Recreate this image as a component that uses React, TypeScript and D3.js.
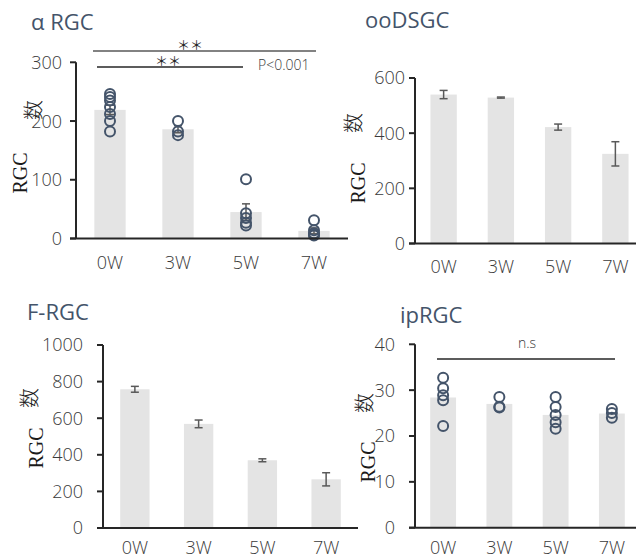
import * as d3 from "d3";

const weeks = ["0W", "3W", "5W", "7W"];

// αRGC
const alphaMean = [219, 186, 45, 13];
const alphaErr = [8, 6, 14, 5];
const alphaDots = [
  [246, 241, 235, 224, 212, 200, 182],
  [200, 182, 176],
  [101, 43, 35, 27, 22],
  [31, 14, 9, 5, 7],
];

// ooDSGC
const ooMean = [540, 529, 422, 325];
const ooErr = [15, 2, 11, 44];

// F-RGC
const fMean = [758, 569, 370, 266];
const fErr = [16, 21, 8, 36];

// ipRGC
const ipMean = [28.4, 27.0, 24.6, 24.9];
const ipDots = [
  [32.7, 30.4, 28.9, 27.8, 22.2],
  [28.5, 26.4, 26.2],
  [28.5, 26.3, 24.6, 23.0, 21.6],
  [25.9, 25.0, 24.0],
];

const sans = "'Open Sans', 'Noto Sans CJK JP', sans-serif";
const cjk = "'Noto Sans CJK JP', sans-serif";
const textColor = "#3a3a3a";
const titleColor = "#44546a";
const barColor = "#e4e4e4";
const errColor = "#595959";

interface PanelProps {
  title: string;
  titleX: number;
  titleY: number;
  axisX: number;
  rangeEnd: number;
  lineEnd: number;
  yTop: number;
  yBottom: number;
  max: number;
  step: number;
  tickGap: number;
  xLabelY: number;
  means: number[];
  errs?: number[];
  dots?: number[][];
  rgc: [number, number];
  kanji: [number, number];
}

function Panel(p: PanelProps) {
  const x = d3
    .scaleBand()
    .domain(weeks)
    .range([p.axisX, p.rangeEnd])
    .paddingInner(0.54)
    .paddingOuter(0.27);
  const y = d3.scaleLinear().domain([0, p.max]).range([p.yBottom, p.yTop]);
  const ticks = d3.range(0, p.max + p.step / 2, p.step);
  const bw = x.bandwidth();

  return (
    <g>
      <text
        x={p.titleX}
        y={p.titleY}
        fill={titleColor}
        fontFamily={sans}
        fontWeight={400}
        fontSize={22}
      >
        {p.title}
      </text>
      {/* y label */}
      <text
        transform={`translate(${p.rgc[0]},${p.rgc[1]}) rotate(-90)`}
        textAnchor="middle"
        fontFamily="'Liberation Serif', serif"
        fontSize={20}
        fill="#1a1a1a"
      >
        RGC
      </text>
      <text
        transform={`translate(${p.kanji[0]},${p.kanji[1]}) rotate(-90)`}
        textAnchor="middle"
        fontFamily={cjk}
        fontWeight={300}
        fontSize={20}
        fill="#1a1a1a"
      >
        数
      </text>
      {/* bars */}
      {weeks.map((w, i) => (
        <rect
          key={w}
          x={x(w)}
          y={y(p.means[i])}
          width={bw}
          height={p.yBottom - y(p.means[i])}
          fill={barColor}
        />
      ))}
      {/* error bars */}
      {p.errs &&
        weeks.map((w, i) => {
          const cx = (x(w) as number) + bw / 2;
          const hi = y(p.means[i] + p.errs![i]);
          const lo = y(p.means[i] - p.errs![i]);
          return (
            <g key={w} stroke={errColor} strokeWidth={1.5}>
              <line x1={cx} x2={cx} y1={hi} y2={lo} />
              <line x1={cx - 4} x2={cx + 4} y1={hi} y2={hi} />
              <line x1={cx - 4} x2={cx + 4} y1={lo} y2={lo} />
            </g>
          );
        })}
      {/* dots */}
      {p.dots &&
        weeks.map((w, i) =>
          p.dots![i].map((v, j) => (
            <circle
              key={w + j}
              cx={(x(w) as number) + bw / 2}
              cy={y(v)}
              r={5}
              fill="none"
              stroke={titleColor}
              strokeWidth={2}
            />
          ))
        )}
      {/* y axis */}
      <line
        x1={p.axisX}
        x2={p.axisX}
        y1={p.yTop}
        y2={p.yBottom}
        stroke="#262626"
        strokeWidth={2}
      />
      {ticks.map((t) => (
        <g key={t}>
          <line
            x1={p.axisX - 6}
            x2={p.axisX}
            y1={y(t)}
            y2={y(t)}
            stroke="#262626"
            strokeWidth={2}
          />
          <text
            x={p.axisX - 6 - p.tickGap}
            y={y(t)}
            dy="0.36em"
            textAnchor="end"
            fontFamily={sans}
            fontWeight={300}
            fontSize={18}
            fill={textColor}
          >
            {t}
          </text>
        </g>
      ))}
      {/* x axis */}
      <line
        x1={p.axisX - 6}
        x2={p.lineEnd}
        y1={p.yBottom}
        y2={p.yBottom}
        stroke="#262626"
        strokeWidth={2}
      />
      {weeks.map((w) => (
        <text
          key={w}
          x={(x(w) as number) + bw / 2}
          y={p.xLabelY}
          textAnchor="middle"
          fontFamily={sans}
          fontWeight={300}
          fontSize={18}
          fill={textColor}
        >
          {w}
        </text>
      ))}
    </g>
  );
}

export default function App() {
  return (
    <svg
      width={636}
      height={558}
      style={{ position: "absolute", left: 0, top: 0, background: "#fff" }}
    >
      <Panel
        title="α RGC"
        titleX={31}
        titleY={30}
        axisX={76}
        rangeEnd={348}
        lineEnd={348}
        yTop={62.3}
        yBottom={238.5}
        max={300}
        step={100}
        tickGap={8}
        xLabelY={269}
        means={alphaMean}
        errs={alphaErr}
        dots={alphaDots}
        rgc={[27, 173]}
        kanji={[41, 110]}
      />
      <Panel
        title="ooDSGC"
        titleX={365}
        titleY={28}
        axisX={415}
        rangeEnd={644}
        lineEnd={636}
        yTop={78}
        yBottom={243.5}
        max={600}
        step={200}
        tickGap={4}
        xLabelY={273}
        means={ooMean}
        errs={ooErr}
        rgc={[365, 183]}
        kanji={[361, 123]}
      />
      <Panel
        title="F-RGC"
        titleX={27}
        titleY={320}
        axisX={103}
        rangeEnd={358}
        lineEnd={358}
        yTop={345}
        yBottom={528}
        max={1000}
        step={200}
        tickGap={14}
        xLabelY={554}
        means={fMean}
        errs={fErr}
        rgc={[43, 448]}
        kanji={[37, 398]}
      />
      <Panel
        title="ipRGC"
        titleX={400}
        titleY={323}
        axisX={415}
        rangeEnd={640}
        lineEnd={636}
        yTop={344.3}
        yBottom={527.7}
        max={40}
        step={10}
        tickGap={14}
        xLabelY={554}
        means={ipMean}
        dots={ipDots}
        rgc={[375, 462]}
        kanji={[372, 403]}
      />
      {/* significance annotations */}
      <line x1={93} x2={316} y1={51} y2={51} stroke={errColor} strokeWidth={1.3} />
      <text
        x={190}
        y={50}
        textAnchor="middle"
        fontFamily={cjk}
        fontSize={13}
        fill="#262626"
      >
        ＊＊
      </text>
      <line x1={97} x2={243} y1={67} y2={67} stroke="#262626" strokeWidth={1.3} />
      <text
        x={168}
        y={66}
        textAnchor="middle"
        fontFamily={cjk}
        fontSize={13}
        fill="#262626"
      >
        ＊＊
      </text>
      <text
        x={258}
        y={70}
        fontFamily={sans}
        fontWeight={300}
        fontSize={14}
        fill={textColor}
      >
        P&lt;0.001
      </text>
      <line x1={437} x2={615} y1={359} y2={359} stroke="#262626" strokeWidth={1.3} />
      <text
        x={527}
        y={348}
        textAnchor="middle"
        fontFamily={sans}
        fontWeight={300}
        fontSize={14}
        fill={textColor}
      >
        n.s
      </text>
    </svg>
  );
}
